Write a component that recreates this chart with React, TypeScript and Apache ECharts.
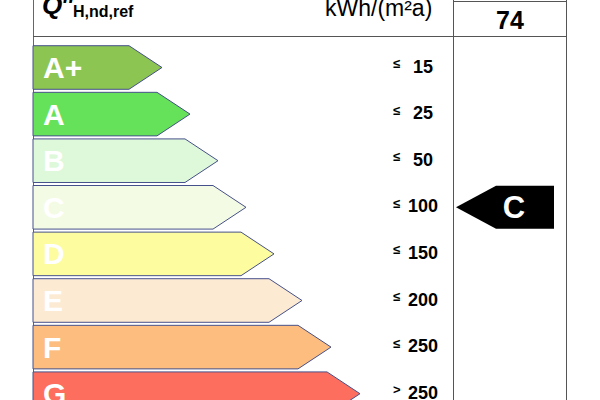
import React, { useEffect, useRef } from "react";
import * as echarts from "echarts";

// ---- data ----
const classes = ["A+", "A", "B", "C", "D", "E", "F", "G"];
const classColors = ["#8CC552", "#66E25A", "#DEF8DA", "#F4FBE4", "#FDFC9F", "#FDEAD3", "#FDBD7F", "#FE6E5E"];
// length of each class arrow body, in x-axis units
const arrowLength = [96, 124, 152, 180, 208, 236, 265, 294];
const limitSigns = ["≤", "≤", "≤", "≤", "≤", "≤", "≤", ">"];
const limitValues = [15, 25, 50, 100, 150, 200, 250, 250];
const currentValue = 74;
const unitLabel = "kWh/(m²a)";

const FONT = "'Liberation Sans', Arial, Helvetica, sans-serif";

export default function App() {
  const ref = useRef<HTMLDivElement>(null);

  useEffect(() => {
    const chart = echarts.init(ref.current!, null, { renderer: "svg" });

    let ratingIndex = limitValues.findIndex((v, i) => limitSigns[i] === "≤" && currentValue <= v);
    if (ratingIndex < 0) ratingIndex = classes.length - 1;

    const GRID_LEFT = 33;
    const GRID_TOP = 44.2;
    const ROW = 46.6;
    const GRID_W = 533;
    const GRID_H = 400 - GRID_TOP;
    const TIP = 33;

    const barData = classes.map((c, i) => [i, arrowLength[i]]);

    const option: any = {
      animation: false,
      backgroundColor: "#ffffff",
      grid: {
        left: GRID_LEFT,
        top: GRID_TOP,
        width: GRID_W,
        height: GRID_H,
        containLabel: false,
      },
      xAxis: {
        type: "value",
        min: 0,
        max: GRID_W,
        show: false,
      },
      yAxis: {
        type: "value",
        inverse: true,
        min: -0.5,
        max: GRID_H / ROW - 0.5,
        show: false,
      },
      graphic: [
        // frame lines
        { type: "line", shape: { x1: 33.5, y1: 0, x2: 33.5, y2: 400 }, style: { stroke: "#666", lineWidth: 1 } },
        { type: "line", shape: { x1: 453.5, y1: 0, x2: 453.5, y2: 400 }, style: { stroke: "#555", lineWidth: 1 } },
        { type: "line", shape: { x1: 566.5, y1: 0, x2: 566.5, y2: 400 }, style: { stroke: "#555", lineWidth: 1 } },
        { type: "line", shape: { x1: 33, y1: 36.5, x2: 567, y2: 36.5 }, style: { stroke: "#555", lineWidth: 1 } },
        { type: "line", shape: { x1: 453, y1: 1.5, x2: 567, y2: 1.5 }, style: { stroke: "#555", lineWidth: 1 } },
        // header
        {
          type: "text", x: 42, y: 5,
          style: { text: "Q", font: `italic bold 26px ${FONT}`, fill: "#000", verticalAlign: "middle", align: "left" },
        },
        {
          type: "text", x: 61, y: 5,
          style: { text: "''", font: `italic bold 24px ${FONT}`, fill: "#000", verticalAlign: "middle", align: "left" },
        },
        {
          type: "text", x: 73, y: 11,
          style: { text: "H,nd,ref", font: `bold 16px ${FONT}`, fill: "#000", verticalAlign: "middle", align: "left" },
        },
        {
          type: "text", x: 325, y: 8,
          style: { text: unitLabel, font: `23px ${FONT}`, fill: "#000", verticalAlign: "middle", align: "left" },
        },
        {
          type: "text", x: 510, y: 20,
          style: { text: String(currentValue), font: `bold 25px ${FONT}`, fill: "#000", verticalAlign: "middle", align: "center" },
        },
      ],
      series: [
        {
          type: "custom",
          coordinateSystem: "cartesian2d",
          encode: { y: 0, x: 1 },
          data: barData,
          clip: false,
          renderItem: (params: any, api: any) => {
            const i = api.value(0);
            const len = api.value(1);
            const start = api.coord([0, i]);
            const end = api.coord([len, i]);
            const band = api.size([0, 1])[1];
            const h = band * 0.935;
            const yc = start[1];
            const pts = [
              [start[0], yc - h / 2],
              [end[0], yc - h / 2],
              [end[0] + TIP, yc],
              [end[0], yc + h / 2],
              [start[0], yc + h / 2],
            ];
            const signPos = api.coord([360, i]);
            const numPos = api.coord([390, i]);
            return {
              type: "group",
              children: [
                {
                  type: "polygon",
                  shape: { points: pts },
                  style: { fill: classColors[i], stroke: "#46508A", lineWidth: 1 },
                },
                {
                  type: "text",
                  x: start[0] + 10,
                  y: yc,
                  style: { text: classes[i], fill: "#ffffff", font: `bold 30px ${FONT}`, verticalAlign: "middle", align: "left" },
                },
                {
                  type: "text",
                  x: signPos[0],
                  y: yc - 4,
                  style: { text: limitSigns[i], fill: "#000", font: `bold 13px ${FONT}`, verticalAlign: "middle", align: "left" },
                },
                {
                  type: "text",
                  x: numPos[0],
                  y: yc - 1,
                  style: { text: String(limitValues[i]), fill: "#000", font: `bold 18px ${FONT}`, verticalAlign: "middle", align: "center" },
                },
              ],
            };
          },
        },
        {
          type: "custom",
          coordinateSystem: "cartesian2d",
          encode: { y: 0, x: 1 },
          data: [[ratingIndex, currentValue]],
          clip: false,
          renderItem: (params: any, api: any) => {
            const i = api.value(0);
            const tip = api.coord([423, i]);
            const flat = api.coord([463, i]);
            const endP = api.coord([521, i]);
            const mid = api.coord([481, i]);
            const band = api.size([0, 1])[1];
            const h = band * 0.925;
            const yc = tip[1];
            const pts = [
              [tip[0], yc],
              [flat[0], yc - h / 2],
              [endP[0], yc - h / 2],
              [endP[0], yc + h / 2],
              [flat[0], yc + h / 2],
            ];
            return {
              type: "group",
              children: [
                { type: "polygon", shape: { points: pts }, style: { fill: "#000" } },
                {
                  type: "text",
                  x: mid[0],
                  y: yc,
                  style: { text: classes[i], fill: "#fff", font: `bold 31px ${FONT}`, verticalAlign: "middle", align: "center" },
                },
              ],
            };
          },
        },
      ],
    };

    chart.setOption(option);
    return () => chart.dispose();
  }, []);

  return (
    <div
      ref={ref}
      style={{ position: "absolute", left: 0, top: 0, width: 600, height: 400 }}
    />
  );
}
